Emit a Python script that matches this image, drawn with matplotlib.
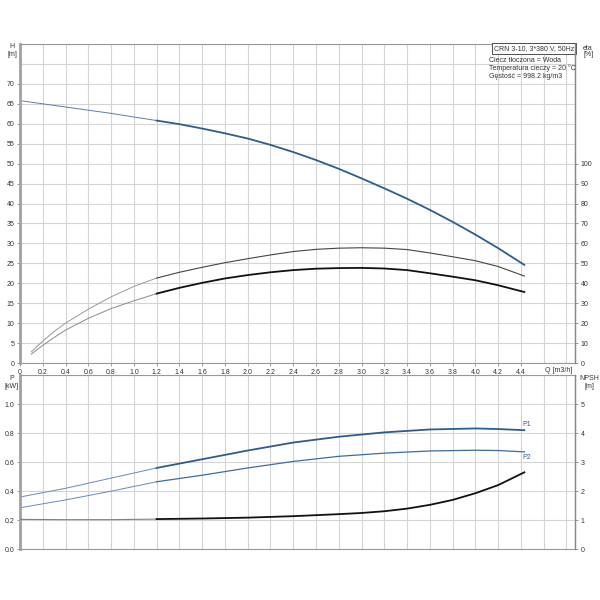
import numpy as np
import matplotlib
matplotlib.use("Agg")
import matplotlib.pyplot as plt

plt.rcParams['font.family'] = ['Liberation Sans', 'DejaVu Sans']

# --- data ---
q_h = [0.0, 0.4, 0.8, 1.2, 1.4, 1.6, 1.8, 2.0, 2.2, 2.4, 2.6, 2.8, 3.0,
       3.2, 3.4, 3.6, 3.8, 4.0, 4.2, 4.43]
h_m = [65.8, 64.2, 62.6, 60.8, 59.9, 58.8, 57.6, 56.3, 54.7, 52.9, 50.9, 48.7, 46.3,
       43.8, 41.2, 38.4, 35.4, 32.2, 28.8, 24.6]

q_eta = [0.1, 0.2, 0.3, 0.4, 0.6, 0.8, 1.0, 1.2, 1.4, 1.6, 1.8, 2.0, 2.2, 2.4,
         2.6, 2.8, 3.0, 3.2, 3.4, 3.6, 3.8, 4.0, 4.2, 4.43]
eta_upper = [5.6, 11.0, 15.8, 20.0, 27.0, 33.2, 38.4, 42.6, 45.5, 48.0, 50.3, 52.3, 54.2, 55.9,
             57.0, 57.6, 57.8, 57.6, 56.9, 55.2, 53.3, 51.3, 48.4, 43.6]
eta_lower = [4.5, 8.8, 12.8, 16.5, 22.4, 27.3, 31.2, 34.8, 37.7, 40.2, 42.4, 44.1, 45.5, 46.6,
             47.3, 47.6, 47.7, 47.4, 46.6, 45.0, 43.3, 41.5, 39.0, 35.6]

q_p = [0.0, 0.4, 0.8, 1.2, 1.6, 2.0, 2.4, 2.8, 3.2, 3.6, 4.0, 4.2, 4.43]
p1_kw = [0.36, 0.42, 0.49, 0.56, 0.62, 0.68, 0.735, 0.775, 0.805, 0.825, 0.832, 0.828, 0.82]
p2_kw = [0.286, 0.34, 0.40, 0.465, 0.51, 0.56, 0.605, 0.64, 0.662, 0.677, 0.682, 0.68, 0.671]

q_npsh = [0.0, 0.4, 0.8, 1.2, 1.6, 2.0, 2.4, 2.8, 3.0, 3.2, 3.4, 3.6, 3.8, 4.0, 4.2, 4.43]
npsh_m = [1.03, 1.02, 1.02, 1.04, 1.06, 1.09, 1.14, 1.21, 1.25, 1.31, 1.40, 1.53, 1.70, 1.93, 2.21, 2.65]

q_ticks = [0.0, 0.2, 0.4, 0.6, 0.8, 1.0, 1.2, 1.4, 1.6, 1.8, 2.0, 2.2, 2.4,
           2.6, 2.8, 3.0, 3.2, 3.4, 3.6, 3.8, 4.0, 4.2, 4.4]
q_split = 1.2  # start of the allowed operating range (thicker lines)

info_title = "CRN 3-10, 3*380 V, 50Hz"
info_lines = ["Ciecz tłoczona = Woda", "Temperatura cieczy = 20 °C", "Gęstość = 998.2 kg/m3"]

BLUE = '#2c5d8f'
BLUE2 = '#3d6d9e'
TXT = '#333333'
GRID = '#d4d4d4'
FS = 5


def split_plot(ax, x, y, thin_kw, thick_kw):
    x = np.asarray(x)
    y = np.asarray(y)
    a = x <= q_split
    b = x >= q_split
    ax.plot(x[a], y[a], solid_joinstyle='round', **thin_kw)
    ax.plot(x[b], y[b], solid_joinstyle='round', **thick_kw)


def style_axes(ax, tw):
    for s in ['top', 'bottom', 'left', 'right']:
        ax.spines[s].set_color('#999999')
        ax.spines[s].set_linewidth(0.8)
        tw.spines[s].set_visible(False)
    ax.spines['left'].set_linewidth(2.0)
    ax.spines['left'].set_color('#a0a0a0')
    tw.spines['right'].set_visible(True)
    tw.spines['right'].set_color('#888888')
    tw.spines['right'].set_linewidth(1.0)
    ax.set_xlim(0, 4.875)
    ax.set_xticks(q_ticks)
    ax.set_xticks([4.6, 4.8], minor=True)
    ax.grid(True, which='both', color=GRID, linewidth=0.8)
    ax.set_axisbelow(True)
    ax.tick_params(which='major', labelsize=FS, colors='#888888', labelcolor=TXT, length=2.5, width=0.6, pad=1.5)
    ax.tick_params(which='minor', length=0)
    tw.tick_params(which='major', labelsize=FS, colors='#888888', labelcolor=TXT, length=2.5, width=0.6, pad=1.5)


fig = plt.figure(figsize=(6, 6), dpi=100)

# ---------- upper panel: H and eta ----------
ax1 = fig.add_axes([20 / 600, 1 - 363 / 600, 555 / 600, 319 / 600])
tw1 = ax1.twinx()
style_axes(ax1, tw1)
ax1.set_ylim(0, 80)
ax1.set_yticks(range(0, 71, 5))
ax1.set_yticks([75, 80], minor=True)
ax1.set_xticklabels(['0'] + ['%.1f' % v for v in q_ticks[1:]])
tw1.set_ylim(0, 160)
tw1.set_yticks(range(0, 101, 10))

split_plot(ax1, q_h, h_m,
           dict(color='#5a7fa8', lw=0.7),
           dict(color=BLUE, lw=1.3))
split_plot(tw1, q_eta, eta_upper,
           dict(color='#9a9a9a', lw=0.7),
           dict(color='#444444', lw=0.8))
split_plot(tw1, q_eta, eta_lower,
           dict(color='#8a8a8a', lw=0.7),
           dict(color='#111111', lw=1.3))

fig.text(12 / 600, 1 - 47 / 600, "H", fontsize=FS, color=TXT, ha='center', va='center')
fig.text(12 / 600, 1 - 55 / 600, "[m]", fontsize=FS, color=TXT, ha='center', va='center')
fig.text(583 / 600, 1 - 49 / 600, "eta", fontsize=FS, color=TXT, ha='left', va='center')
fig.text(583 / 600, 1 - 55 / 600, "[%]", fontsize=FS, color=TXT, ha='left', va='center')
fig.text(559 / 600, 1 - 370 / 600, "Q [m3/h]", fontsize=FS, color=TXT, ha='center', va='center')

ax1.text(0.9985, 0.997, info_title, transform=ax1.transAxes, fontsize=FS, color=TXT,
         ha='right', va='top',
         bbox=dict(boxstyle='square,pad=0.25', facecolor='white', edgecolor='#333333', linewidth=0.6))
for i, line in enumerate(info_lines):
    fig.text(489 / 600, 1 - (61 + 7.6 * i) / 600, line, fontsize=FS, color=TXT, ha='left', va='center')

# ---------- lower panel: P1, P2 and NPSH ----------
ax2 = fig.add_axes([20 / 600, 1 - 549.3 / 600, 555 / 600, 174.3 / 600])
tw2 = ax2.twinx()
style_axes(ax2, tw2)
ax2.set_ylim(0, 1.2)
ax2.set_yticks([0.0, 0.2, 0.4, 0.6, 0.8, 1.0])
ax2.set_yticks([1.2], minor=True)
ax2.set_yticklabels(['%.1f' % v for v in [0.0, 0.2, 0.4, 0.6, 0.8, 1.0]])
ax2.tick_params(axis='x', which='major', length=0, labelbottom=False)
tw2.set_ylim(0, 6)
tw2.set_yticks(range(0, 6))

split_plot(ax2, q_p, p1_kw,
           dict(color='#6a8bb0', lw=0.7),
           dict(color=BLUE, lw=1.3))
split_plot(ax2, q_p, p2_kw,
           dict(color='#6a8bb0', lw=0.7),
           dict(color=BLUE2, lw=0.9))
split_plot(tw2, q_npsh, npsh_m,
           dict(color='#808080', lw=0.8),
           dict(color='#111111', lw=1.3))

ax2.text(q_p[-1] + 0.02, p1_kw[-1] + 0.012, "P1", fontsize=FS, color=BLUE, ha='center', va='bottom')
ax2.text(q_p[-1] + 0.02, p2_kw[-1] - 0.012, "P2", fontsize=FS, color=BLUE, ha='center', va='top')

fig.text(12 / 600, 1 - 379 / 600, "P", fontsize=FS, color=TXT, ha='center', va='center')
fig.text(12 / 600, 1 - 386 / 600, "[kW]", fontsize=FS, color=TXT, ha='center', va='center')
fig.text(589 / 600, 1 - 379 / 600, "NPSH", fontsize=FS, color=TXT, ha='center', va='center')
fig.text(589 / 600, 1 - 387 / 600, "[m]", fontsize=FS, color=TXT, ha='center', va='center')

fig.savefig("out.png", dpi=100, facecolor='white')
